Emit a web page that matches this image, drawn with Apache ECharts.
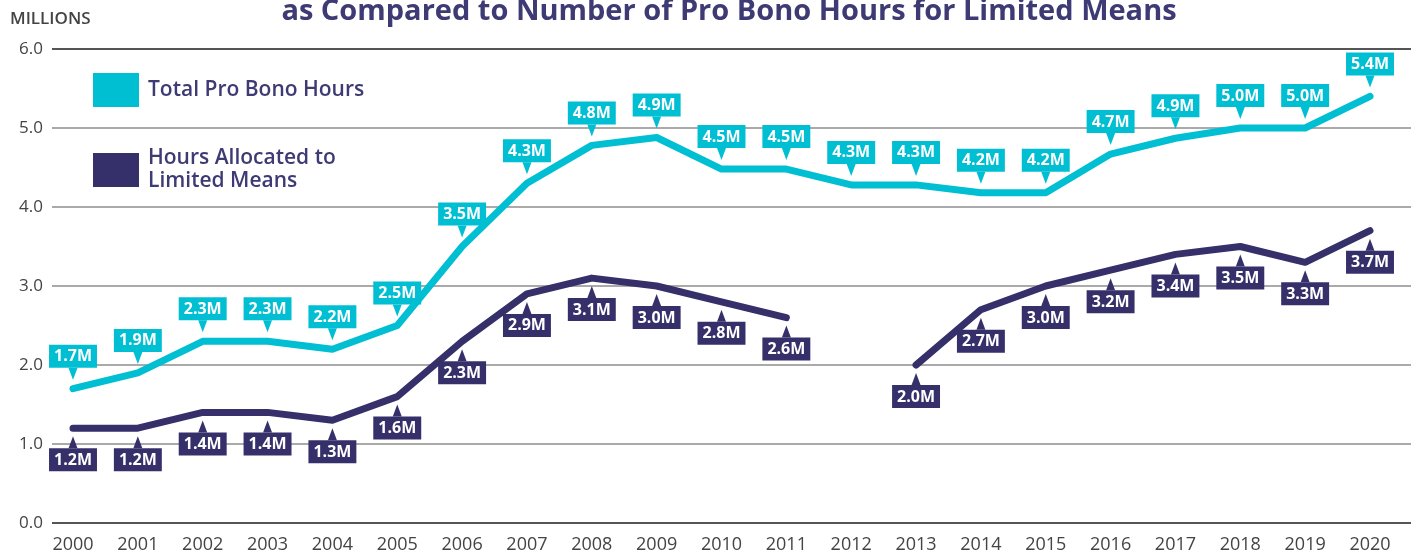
<!DOCTYPE html>
<html>
<head>
<meta charset="utf-8">
<script src="https://cdn.jsdelivr.net/npm/echarts@6/dist/echarts.min.js"></script>
<style>
  html, body { margin: 0; padding: 0; background: #fff; }
  #chart { width: 1411px; height: 556px; }
</style>
</head>
<body>
<div id="chart"></div>
<script>
const years = ['2000', '2001', '2002', '2003', '2004', '2005', '2006', '2007', '2008', '2009', '2010',
  '2011', '2012', '2013', '2014', '2015', '2016', '2017', '2018', '2019', '2020']
const totalHours = [1.7, 1.9, 2.3, 2.3, 2.2, 2.5, 3.5, 4.3, 4.78, 4.88, 4.48,
  4.48, 4.28, 4.28, 4.18, 4.18, 4.67, 4.87, 5.0, 5.0, 5.4]
const limitedMeans = [1.2, 1.2, 1.4, 1.4, 1.3, 1.6, 2.3, 2.9, 3.1, 3.0, 2.8,
  2.6, null, 2.0, 2.7, 3.0, 3.2, 3.4, 3.5, 3.3, 3.7]
const yTicks = [0, 1, 2, 3, 4, 5, 6]

const CYAN = '#00bfd3'
const NAVY = '#35306a'
const FONT = '"Open Sans", sans-serif'

const chart = echarts.init(document.getElementById('chart'))

// label box with a small pointer (the pointer is the series symbol)
function boxLabel(color, position) {
  return {
    show: true,
    position,
    distance: 0,
    color: '#fff',
    backgroundColor: color,
    fontFamily: FONT,
    fontWeight: 'bold',
    fontSize: 16,
    padding: [4, 5, 3, 5],
    formatter: p => p.value.toFixed(1) + 'M'
  }
}

chart.setOption({
  animation: false,
  graphic: [
    {
      type: 'text', x: 729, y: 12,
      style: {
        text: 'as Compared to Number of Pro Bono Hours for Limited Means',
        fill: '#3d3a74', font: 'bold 29px "Open Sans", sans-serif',
        textAlign: 'center', textVerticalAlign: 'middle'
      }
    },
    {
      type: 'text', x: 10, y: 19,
      style: {
        text: 'MILLIONS', fill: '#444',
        font: '600 17px "Open Sans", sans-serif',
        textVerticalAlign: 'middle'
      }
    }
  ],
  legend: {
    orient: 'vertical',
    left: 93,
    top: 73,
    padding: 0,
    icon: 'rect',
    itemWidth: 46,
    itemHeight: 34,
    itemGap: 40,
    textStyle: {
      color: '#3d3a74', fontFamily: FONT, fontWeight: 600,
      fontSize: 21, lineHeight: 23, padding: [0, 0, 0, 4]
    },
    data: ['Total Pro Bono Hours', 'Hours Allocated to\nLimited Means']
  },
  grid: [
    { left: 52, right: 0, top: 49, bottom: 33 },
    { left: 73, right: 41, top: 49, bottom: 33 }
  ],
  xAxis: [
    { gridIndex: 0, type: 'value', show: false, min: 0, max: 1 },
    {
      gridIndex: 1,
      type: 'category',
      data: years,
      boundaryGap: false,
      axisLine: { show: false },
      axisTick: { show: false },
      axisLabel: { color: '#444', fontFamily: FONT, fontSize: 18, margin: 13 }
    }
  ],
  yAxis: [
    {
      gridIndex: 0,
      type: 'value',
      min: yTicks[0],
      max: yTicks[yTicks.length - 1],
      interval: 1,
      axisLine: { show: false },
      axisTick: { show: false },
      axisLabel: {
        color: '#444', fontFamily: FONT, fontSize: 17, margin: 9,
        formatter: v => v.toFixed(1)
      },
      splitLine: {
        lineStyle: {
          width: 2,
          color: ['#555', '#aaa', '#aaa', '#aaa', '#aaa', '#aaa', '#555']
        }
      }
    },
    { gridIndex: 1, type: 'value', min: 0, max: 6, show: false }
  ],
  series: [
    {
      name: 'Total Pro Bono Hours',
      type: 'line',
      xAxisIndex: 1,
      yAxisIndex: 1,
      data: totalHours,
      color: CYAN,
      showAllSymbol: true,
      symbol: 'path://M0,0 L10,0 L5,12 Z',
      symbolSize: [9, 12],
      symbolOffset: [0, -15],
      symbolKeepAspect: false,
      lineStyle: { width: 7, color: CYAN, cap: 'round', join: 'round' },
      itemStyle: { color: CYAN },
      label: boxLabel(CYAN, 'top')
    },
    {
      name: 'Hours Allocated to\nLimited Means',
      type: 'line',
      xAxisIndex: 1,
      yAxisIndex: 1,
      data: limitedMeans,
      color: NAVY,
      connectNulls: false,
      showAllSymbol: true,
      symbol: 'triangle',
      symbolSize: [9, 12],
      symbolOffset: [0, 14],
      lineStyle: { width: 7, color: NAVY, cap: 'round', join: 'round' },
      itemStyle: { color: NAVY },
      label: boxLabel(NAVY, 'bottom')
    }
  ]
})
</script>
</body>
</html>
